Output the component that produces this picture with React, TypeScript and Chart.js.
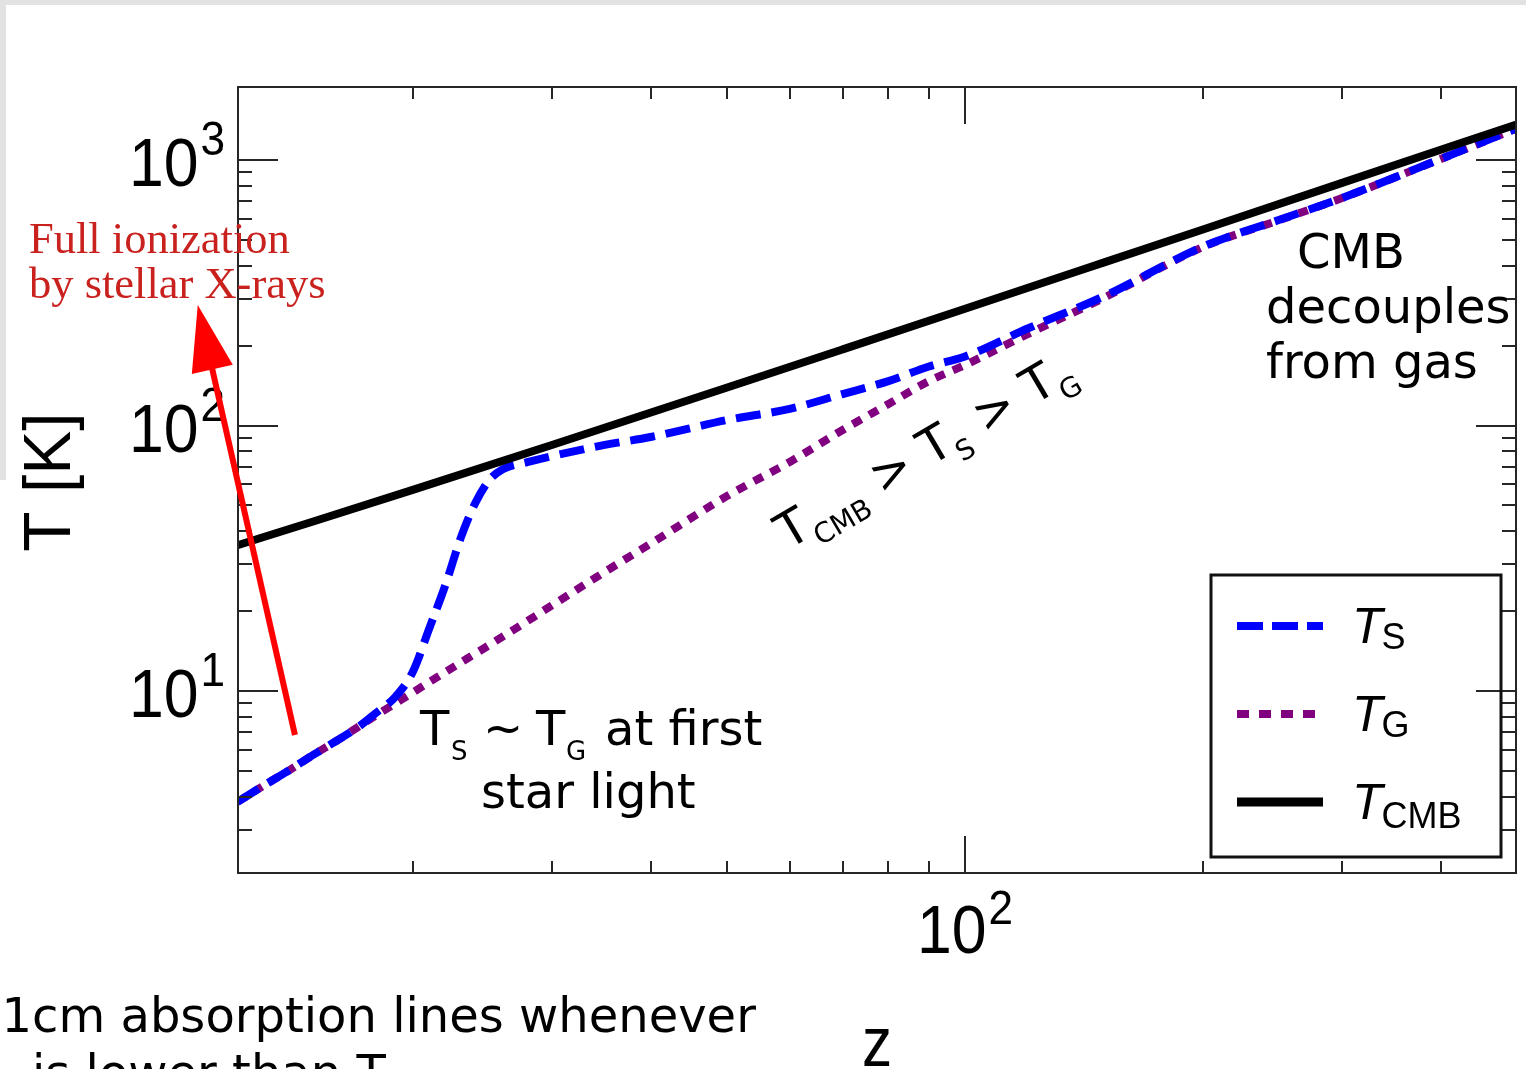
import React, { useEffect, useRef } from "react";
import { Chart, registerables } from "chart.js";

Chart.register(...registerables);

// ---- data (redshift z, temperature in K) ----
const zTS = [12, 13, 14, 15, 16, 17, 18, 19, 20, 21, 22, 23, 24, 25, 26, 28, 30, 35, 40, 50, 60, 70, 80, 90, 100, 120, 150, 200, 250, 300, 400, 500];
const TS = [3.82, 4.43, 5.06, 5.77, 6.48, 7.26, 8.3, 9.49, 11.8, 17.3, 25.1, 37.7, 51.1, 62.3, 68.5, 72.9, 76.7, 84.5, 90.5, 104.9, 115.6, 131.4, 147, 166.8, 182, 232, 307, 472, 596, 720, 1010, 1320];

const zTG = [12, 13, 14, 15, 16, 18, 20, 22, 25, 30, 35, 40, 50, 60, 70, 80, 90, 100, 120, 150, 200, 250, 300, 400, 500];
const TG = [3.82, 4.43, 5.06, 5.77, 6.48, 8.12, 9.87, 11.8, 14.9, 21.0, 28.1, 35.9, 54.3, 72.9, 96.2, 120.5, 147, 169, 221, 303, 470, 594, 719, 1009, 1320];

const zCMB = [12, 15, 20, 30, 50, 70, 100, 150, 200, 300, 500];
const TCMB = [35.4, 43.6, 57.2, 84.5, 139.0, 193.5, 275.2, 411.5, 547.7, 820.2, 1365];

// axis ranges and ticks
const X_MIN = 12.02;
const X_MAX = 498;
const Y_MIN = 2.063;
const Y_MAX = 1884;
const xTickValues = [20, 30, 40, 50, 60, 70, 80, 90, 100, 200, 300, 400];
const yTickValues = [3, 4, 5, 6, 7, 8, 9, 10, 20, 30, 40, 50, 60, 70, 80, 90, 100, 200, 300, 400, 500, 600, 700, 800, 900, 1000];
const xTickLabels = [{ value: 100, exp: "2" }];
const yTickLabels = [
  { value: 10, exp: "1" },
  { value: 100, exp: "2" },
  { value: 1000, exp: "3" },
];

// annotation arrow (z, T) tail -> tip
const arrowTail = [14.19, 6.83];
const arrowTip = [10.69, 284.4];

const isMajor = (v: number) => Math.abs(Math.log10(v) - Math.round(Math.log10(v))) < 1e-9;

const HELV = "'Liberation Sans', Arial, sans-serif";
const DJV = "'DejaVu Sans', sans-serif";

function drawPow(ctx: CanvasRenderingContext2D, anchorX: number, baseline: number, supBaseline: number, exp: string, align: "right" | "center") {
  const sx = 0.92;
  ctx.save();
  ctx.font = `68px ${HELV}`;
  const w10 = ctx.measureText("10").width;
  ctx.font = `48px ${HELV}`;
  const wExp = ctx.measureText(exp).width;
  const total = (w10 + 2 + wExp) * sx;
  const left = align === "right" ? anchorX - total : anchorX - total / 2;
  ctx.translate(left, 0);
  ctx.scale(sx, 1);
  ctx.fillStyle = "#000";
  ctx.textAlign = "left";
  ctx.textBaseline = "alphabetic";
  ctx.font = `68px ${HELV}`;
  ctx.fillText("10", 0, baseline);
  ctx.font = `48px ${HELV}`;
  ctx.fillText(exp, w10 + 2, supBaseline);
  ctx.restore();
}

function drawSeq(ctx: CanvasRenderingContext2D, x: number, y: number, parts: { t: string; size: number; dy?: number; font?: string }[]) {
  let cx = x;
  for (const p of parts) {
    ctx.font = `${p.size}px ${p.font || DJV}`;
    ctx.fillText(p.t, cx, y + (p.dy || 0));
    cx += ctx.measureText(p.t).width;
  }
  return cx;
}

const overlayPlugin = {
  id: "overlay",
  afterDraw(chart: any) {
    const ctx: CanvasRenderingContext2D = chart.ctx;
    const { left, right, top, bottom } = chart.chartArea;
    const xs = chart.scales.x;
    const ys = chart.scales.y;
    ctx.save();

    // frame
    ctx.strokeStyle = "#262626";
    ctx.lineWidth = 2;
    ctx.strokeRect(left, top, right - left, bottom - top);

    // inside ticks
    ctx.beginPath();
    for (const v of xTickValues) {
      const px = Math.round(xs.getPixelForValue(v));
      const len = isMajor(v) ? 37 : 12;
      ctx.moveTo(px, bottom);
      ctx.lineTo(px, bottom - len);
      ctx.moveTo(px, top);
      ctx.lineTo(px, top + len);
    }
    for (const v of yTickValues) {
      const py = Math.round(ys.getPixelForValue(v));
      const len = isMajor(v) ? 40 : 14;
      ctx.moveTo(left, py);
      ctx.lineTo(left + len, py);
      ctx.moveTo(right, py);
      ctx.lineTo(right - len, py);
    }
    ctx.stroke();

    // tick labels
    for (const t of yTickLabels) {
      const py = ys.getPixelForValue(t.value);
      drawPow(ctx, left - 13, py + 26, py - 5, t.exp, "right");
    }
    for (const t of xTickLabels) {
      const px = xs.getPixelForValue(t.value);
      drawPow(ctx, px, bottom + 80, bottom + 51, t.exp, "center");
    }

    // axis titles
    ctx.fillStyle = "#000";
    ctx.save();
    ctx.translate(70, 482);
    ctx.rotate(-Math.PI / 2);
    ctx.font = `66px ${HELV}`;
    ctx.textAlign = "center";
    ctx.fillText("T [K]", 0, 0);
    ctx.restore();
    ctx.save();
    ctx.translate(877, 1066);
    ctx.scale(0.86, 1);
    ctx.font = `70px ${HELV}`;
    ctx.textAlign = "center";
    ctx.fillText("z", 0, 0);
    ctx.restore();

    // legend
    const lw = 290, lh = 282;
    const lx = right - 15 - lw, ly = bottom - 16 - lh;
    ctx.strokeStyle = "#111";
    ctx.lineWidth = 3;
    ctx.strokeRect(lx, ly, lw, lh);
    const rows = [
      { color: "#0000ff", dash: [26, 9], width: 8, sub: "S", subDy: 6 },
      { color: "#800080", dash: [12, 10], width: 8, sub: "G", subDy: 6 },
      { color: "#000000", dash: [], width: 9, sub: "CMB", subDy: 9 },
    ];
    rows.forEach((r, i) => {
      const yy = ly + 51 + i * 88;
      ctx.save();
      ctx.strokeStyle = r.color;
      ctx.lineWidth = r.width;
      ctx.setLineDash(r.dash);
      ctx.beginPath();
      ctx.moveTo(lx + 26, yy);
      ctx.lineTo(lx + 112, yy);
      ctx.stroke();
      ctx.restore();
      ctx.fillStyle = "#000";
      ctx.textAlign = "left";
      ctx.font = `italic 50px ${HELV}`;
      ctx.fillText("T", lx + 141, yy + 17);
      const wT = ctx.measureText("T").width;
      ctx.font = `36px ${HELV}`;
      ctx.fillText(r.sub, lx + 141 + wT - 1, yy + 17 + r.subDy);
    });

    // annotations (black)
    ctx.fillStyle = "#000";
    ctx.textAlign = "left";
    ctx.font = `48px ${DJV}`;
    ctx.fillText("CMB", 1297, 268);
    ctx.fillText("decouples", 1266, 323);
    ctx.fillText("from gas", 1266, 378);

    // Ts ~ Tg at first star light
    ctx.font = `48px ${DJV}`;
    ctx.fillText("T", 420, 745);
    ctx.font = `26px ${DJV}`;
    ctx.fillText("S", 451, 760);
    ctx.font = `48px ${DJV}`;
    ctx.fillText("~", 483, 745);
    ctx.fillText("T", 536, 745);
    ctx.font = `26px ${DJV}`;
    ctx.fillText("G", 566, 760);
    ctx.font = `48px ${DJV}`;
    ctx.fillText("at first", 605, 745);
    ctx.fillText("star light", 481, 808);

    // rotated inequality
    ctx.save();
    ctx.translate(788, 550);
    ctx.rotate((-30.5 * Math.PI) / 180);
    drawSeq(ctx, 0, 0, [
      { t: "T", size: 49 },
      { t: "CMB", size: 28, dy: 13 },
      { t: " > ", size: 49 },
      { t: "T", size: 49 },
      { t: "S", size: 28, dy: 13 },
      { t: " > ", size: 49 },
      { t: "T", size: 49 },
      { t: "G", size: 28, dy: 13 },
    ]);
    ctx.restore();

    // bottom caption (cut by page edge)
    ctx.font = `48px ${DJV}`;
    ctx.fillText("21cm absorption lines whenever", -29, 1032);
    drawSeq(ctx, 32, 1089, [
      { t: "is lower than T", size: 48 },
      { t: "CMB", size: 28, dy: 12 },
    ]);

    // red annotation text
    ctx.fillStyle = "#c9211e";
    ctx.font = `44.5px 'Liberation Serif', 'Times New Roman', serif`;
    ctx.fillText("Full ionization", 29, 253);
    ctx.fillText("by stellar X-rays", 29, 298);

    // red arrow
    const tx = xs.getPixelForValue(arrowTail[0]);
    const ty = ys.getPixelForValue(arrowTail[1]);
    const hx = xs.getPixelForValue(arrowTip[0]);
    const hy = ys.getPixelForValue(arrowTip[1]);
    const ang = Math.atan2(hy - ty, hx - tx);
    const headLen = 66, headHalf = 21;
    const bx = hx - headLen * Math.cos(ang);
    const by = hy - headLen * Math.sin(ang);
    ctx.strokeStyle = "#ff0000";
    ctx.fillStyle = "#ff0000";
    ctx.lineWidth = 6;
    ctx.setLineDash([]);
    ctx.beginPath();
    ctx.moveTo(tx, ty);
    ctx.lineTo(bx + 2 * Math.cos(ang), by + 2 * Math.sin(ang));
    ctx.stroke();
    ctx.beginPath();
    ctx.moveTo(hx, hy);
    ctx.lineTo(bx + headHalf * Math.sin(ang), by - headHalf * Math.cos(ang));
    ctx.lineTo(bx - headHalf * Math.sin(ang), by + headHalf * Math.cos(ang));
    ctx.closePath();
    ctx.fill();

    ctx.restore();
  },
};

export default function App() {
  const ref = useRef<HTMLCanvasElement | null>(null);
  useEffect(() => {
    if (!ref.current) return;
    const toXY = (xs: number[], ys: number[]) => xs.map((x, i) => ({ x, y: ys[i] }));
    const chart = new Chart(ref.current, {
      type: "line",
      data: {
        datasets: [
          {
            label: "T_CMB",
            data: toXY(zCMB, TCMB),
            borderColor: "#000000",
            borderWidth: 8,
            pointRadius: 0,
            cubicInterpolationMode: "monotone",
            fill: false,
          },
          {
            label: "T_S",
            data: toXY(zTS, TS),
            borderColor: "#0000ff",
            borderWidth: 8,
            borderDash: [25, 11],
            pointRadius: 0,
            cubicInterpolationMode: "monotone",
            fill: false,
          },
          {
            label: "T_G",
            data: toXY(zTG, TG),
            borderColor: "#800080",
            borderWidth: 8,
            borderDash: [10, 9],
            pointRadius: 0,
            cubicInterpolationMode: "monotone",
            fill: false,
          },
        ],
      },
      options: {
        responsive: false,
        animation: false,
        events: [],
        layout: { padding: { left: 238, top: 87, right: 10, bottom: 196 } },
        plugins: { legend: { display: false }, tooltip: { enabled: false } },
        scales: {
          x: { type: "logarithmic", min: X_MIN, max: X_MAX, display: false },
          y: { type: "logarithmic", min: Y_MIN, max: Y_MAX, display: false },
        },
      },
      plugins: [overlayPlugin],
    } as any);
    return () => chart.destroy();
  }, []);

  return (
    <div style={{ position: "fixed", left: 0, top: 0, width: 1526, height: 1069, overflow: "hidden", background: "#fff" }}>
      <div style={{ position: "absolute", left: 0, top: 0, width: 1526, height: 5, background: "#e2e2e2" }} />
      <div style={{ position: "absolute", left: 0, top: 0, width: 6, height: 480, background: "#e2e2e2" }} />
      <canvas ref={ref} width={1526} height={1069} style={{ position: "absolute", left: 0, top: 0, display: "block" }} />
    </div>
  );
}
